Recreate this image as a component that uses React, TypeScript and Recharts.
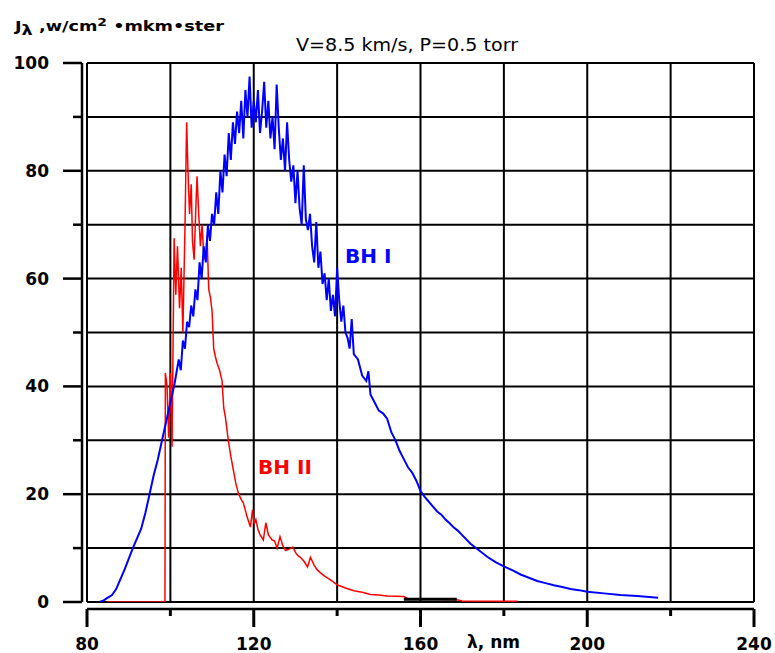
import { CartesianGrid, Line, LineChart, XAxis, YAxis } from "recharts";

// wavelength grid / ticks (nm) and intensity ticks
const wavelengthTicks = [80, 100, 120, 140, 160, 180, 200, 220, 240];
const wavelengthLabels = [80, 120, 160, 200, 240];
const intensityTicks = [0, 10, 20, 30, 40, 50, 60, 70, 80, 90, 100];
const intensityLabels = [0, 20, 40, 60, 80, 100];

// BH I (blue)
const bh1Wavelength = [
  83, 84, 85, 86, 87, 88, 89, 90, 91, 92, 93, 94, 95, 96, 97, 98, 99, 100, 101, 102,
  102.5, 103, 103.5, 104, 104.5, 105, 105.5, 106, 106.5, 107, 107.5, 108, 108.5, 109, 109.5,
  110, 110.5, 111, 111.5, 112, 112.5, 113, 113.5, 114, 114.5, 115, 115.5, 116, 116.5, 117,
  117.5, 118, 118.5, 119, 119.5, 120, 120.5, 121, 121.5, 122, 122.5, 123, 123.5, 124, 124.5,
  125, 125.5, 126, 126.5, 127, 127.5, 128, 128.5, 129, 129.5, 130, 130.5, 131, 131.5, 132,
  132.5, 133, 133.5, 134, 134.5, 135, 135.5, 136, 136.5, 137, 137.5, 138, 138.5, 139, 139.5,
  140, 140.5, 141, 141.5, 142, 142.5, 143, 143.5, 144, 145, 146, 147, 147.5, 148, 149, 150,
  151, 152, 153, 154, 155, 156, 157, 158, 159, 160, 161, 162, 163, 164, 165, 166, 167, 168,
  169, 170, 172, 174, 176, 178, 180, 182, 184, 186, 188, 190, 192, 194, 196, 198, 200, 204,
  208, 212, 217,
];
const bh1Intensity = [
  0, 0.3, 0.8, 1.3, 2.4, 4.2, 6, 8, 10, 11.8, 13.6, 16.5, 20, 23.5, 26.5, 30, 33.5, 37, 40.5, 45,
  43, 48.5, 47, 52, 51, 55, 53, 58, 56, 63, 60, 66, 63, 70, 67,
  72, 70, 76, 72, 80, 76, 83, 79, 87, 82, 89, 85, 91, 87, 93,
  86, 95, 90, 97.5, 88, 93, 89, 95, 87, 91, 96.5, 88, 93, 86, 90,
  84, 96, 88, 82, 86, 80, 89, 82, 78, 81, 74, 80, 73, 70, 81,
  71, 69, 72, 66, 63, 70.5, 62, 65, 59, 61, 56, 60, 54, 57, 53,
  62, 56, 52, 55, 50, 49, 47, 52.5, 46, 45, 42, 41, 42.8, 38.5, 37, 35.5,
  35, 34, 31.5, 30, 28, 26.5, 25, 24, 22.5, 20.6, 19.5, 18.6, 17.7, 16.8, 16.2, 15.3, 14.6, 13.8,
  13.2, 12.4, 10.8, 9.6, 8.4, 7.4, 6.6, 5.9, 5.1, 4.5, 3.9, 3.5, 3.1, 2.8, 2.4, 2.2, 1.9, 1.6,
  1.3, 1.1, 0.8,
];

// BH II (red)
const bh2Wavelength = [
  84.8, 98.7, 98.8, 99.2, 99.6, 100, 100.4, 100.9, 101.3, 101.7, 102.2, 102.6, 103, 103.5,
  103.9, 104.2, 104.6, 105, 105.3, 105.7, 106.1, 106.4, 106.8, 107.2, 107.6, 108, 108.4, 108.8,
  109.2, 109.6, 110, 110.4, 110.8, 111.2, 111.8, 112.4, 112.8, 113.2, 113.9, 114.5, 115.1, 115.7,
  116.3, 117, 117.5, 118.4, 119.2, 119.7, 120.1, 120.5, 121, 121.5, 122.3, 122.9, 123.5, 124.4,
  125, 125.6, 126.3, 127, 127.6, 128.5, 129.4, 130, 130.6, 131.2, 132, 132.9, 133.6, 134.5,
  135.2, 136, 137, 138.4, 140, 142, 144, 146, 148, 150, 152, 154, 156, 157, 168.7, 170, 183.3,
];
const bh2Intensity = [
  0, 0, 42.5, 40, 30.5, 42.5, 28.8, 67.5, 57, 66, 54.5, 62, 50, 69.5,
  89, 80.5, 72, 77.5, 67, 63.5, 73, 79, 72, 66, 70, 64.5, 63.5, 68,
  58, 56.5, 54, 47, 45.5, 44.3, 43, 41, 36, 34.3, 30, 27, 24.5, 22,
  20.2, 19, 18.4, 15.8, 13.9, 17.1, 14.5, 15.3, 13.5, 12.5, 11.5, 14.7, 12.5, 11.5,
  11.3, 10, 12.1, 10.4, 9.6, 9.8, 10.2, 9.2, 8.6, 8.3, 7.6, 6.5, 8.3, 6.8,
  6, 5.4, 4.8, 4.1, 3.2, 2.6, 2.1, 1.8, 1.4, 1.3, 1.1, 1.05, 1, 0.6, 0.4, 0.2, 0.15,
];

// short black segment near the baseline
const blackWavelength = [156, 168.7];
const blackIntensity = [0.5, 0.5];

const zip = (xs: number[], ys: number[]) => xs.map((x, i) => ({ x, v: ys[i] }));
const bh1Data = zip(bh1Wavelength, bh1Intensity);
const bh2Data = zip(bh2Wavelength, bh2Intensity);
const blackData = zip(blackWavelength, blackIntensity);

const labelFont = "'DejaVu Sans', sans-serif";

function XTick({ x, y, payload }: any) {
  const major = wavelengthLabels.includes(payload.value);
  return (
    <g>
      <line x1={x} x2={x} y1={y + 7} y2={y + (major ? 25 : 14)} stroke="#000" strokeWidth={3} />
      {major && (
        <text x={x} y={y + 48} textAnchor="middle" fontFamily={labelFont} fontWeight="bold" fontSize={17} fill="#000">
          {payload.value}
        </text>
      )}
    </g>
  );
}

function YTick({ x, y, payload }: any) {
  const major = intensityLabels.includes(payload.value);
  return (
    <g>
      <line x1={x - 5} x2={x - (major ? 24 : 14)} y1={y} y2={y} stroke="#000" strokeWidth={2.5} />
      {major && (
        <text x={x - 38} y={y + 6} textAnchor="end" fontFamily={labelFont} fontWeight="bold" fontSize={17} fill="#000">
          {payload.value}
        </text>
      )}
    </g>
  );
}

export default function App() {
  return (
    <div style={{ position: "absolute", left: 0, top: 0, width: 775, height: 653, background: "#fff" }}>
      <LineChart width={775} height={653} margin={{ top: 63, right: 21, bottom: 0, left: 0 }}>
        <CartesianGrid stroke="#000" strokeWidth={2} />
        <XAxis
          dataKey="x"
          type="number"
          domain={[80, 240]}
          ticks={wavelengthTicks}
          allowDataOverflow
          height={51}
          tickSize={0}
          tickMargin={0}
          tickLine={false}
          axisLine={{ stroke: "#000", strokeWidth: 2.5, transform: "translate(0,7)" }}
          tick={<XTick />}
        />
        <YAxis
          type="number"
          domain={[0, 100]}
          ticks={intensityTicks}
          allowDataOverflow
          width={87}
          tickSize={0}
          tickMargin={0}
          tickLine={false}
          axisLine={{ stroke: "#000", strokeWidth: 2.5, transform: "translate(-5,0)" }}
          tick={<YTick />}
        />
        <Line data={bh2Data} dataKey="v" type="linear" stroke="#ff0000" strokeWidth={1.5} dot={false} isAnimationActive={false} />
        <Line data={bh1Data} dataKey="v" type="linear" stroke="#0000ff" strokeWidth={2} dot={false} isAnimationActive={false} />
        <Line data={blackData} dataKey="v" type="linear" stroke="#000" strokeWidth={3} dot={false} isAnimationActive={false} />
      </LineChart>
      <svg width={775} height={653} style={{ position: "absolute", left: 0, top: 0, pointerEvents: "none" }}>
        <text x={15} y={31} fontFamily={labelFont} fontWeight="bold" fontSize={14} fill="#000" textLength={209} lengthAdjust="spacingAndGlyphs">
          J<tspan dy={4}>λ</tspan>
          <tspan dy={-4}> ,w/cm</tspan>
          <tspan dy={-5} fontSize={11}>2</tspan>
          <tspan dy={5}> •mkm•ster</tspan>
        </text>
        <text x={296} y={51} fontFamily={labelFont} fontSize={17} fill="#000" textLength={222} lengthAdjust="spacingAndGlyphs">
          V=8.5 km/s, P=0.5 torr
        </text>
        <text x={345} y={263} fontFamily={labelFont} fontWeight="bold" fontSize={20} fill="#0000ff">
          BH I
        </text>
        <text x={258} y={474} fontFamily={labelFont} fontWeight="bold" fontSize={20} fill="#ff0000">
          BH II
        </text>
        <text x={467} y={648} fontFamily={labelFont} fontWeight="bold" fontSize={17} fill="#000">
          λ, nm
        </text>
      </svg>
    </div>
  );
}
